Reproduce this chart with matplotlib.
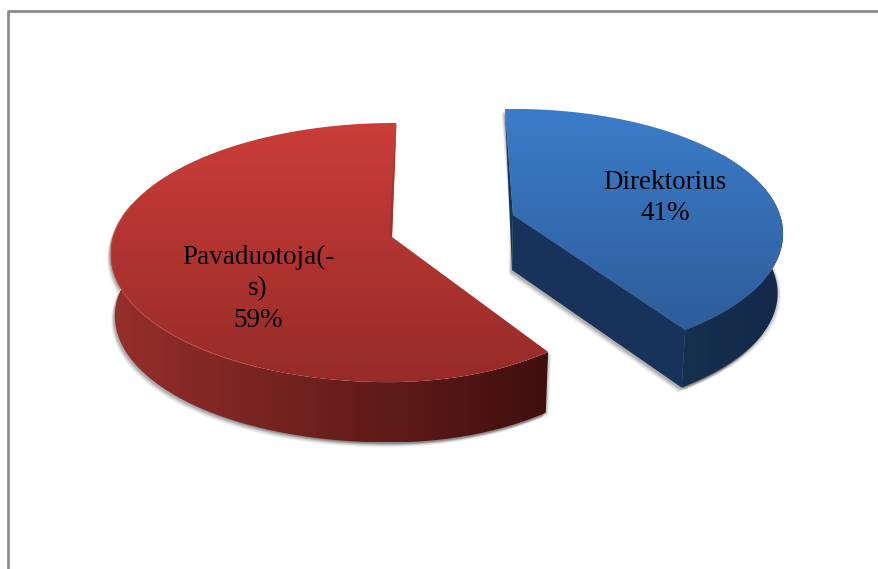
import numpy as np
import matplotlib
matplotlib.use("Agg")
import matplotlib.pyplot as plt
from matplotlib.colors import LinearSegmentedColormap
from matplotlib.patches import Polygon

labels = ["Direktorius\n41%", "Pavaduotoja(-\ns)\n59%"]
shares = [41, 59]

W, H = 879, 569

# per slice placement of the fake 3d pie, in pixels
blue = dict(x0=513, y0=215, a=122, b=267, k=0.15, c=0, start=-2, depth=60, shrink=0.98, pull=0)
red = dict(x0=392, y0=237, a=127.7, b=279, k=0.12, c=3, start=148, depth=62.5, shrink=0.985, pull=20)


def project(p, theta, r=1.0, low=False):
    # theta in degrees clockwise from 12 o'clock
    t = np.radians(theta)
    u = r * np.sin(t)
    v = r * np.cos(t)
    d = 1 + p["k"] * v
    x = (p["b"] * u + p["c"] * v) / d
    y = -p["a"] * v / d
    # the right side of the red rim sits a bit tighter than a true ellipse
    bend = p["pull"] * np.clip(u, 0, None) ** 2
    x = x - bend
    y = y - bend
    if low:
        return p["x0"] + x * p["shrink"], p["y0"] + y * p["shrink"] + p["depth"]
    return p["x0"] + x, p["y0"] + y


def rim(p, t1, t2, low=False):
    th = np.linspace(t1, t2, 200)
    x, y = project(p, th, low=low)
    return np.column_stack([x, y])


def gradient_fill(ax, pts, c1, c2, horizontal=False, z=2):
    cmap = LinearSegmentedColormap.from_list("g", [c1, c2])
    g = np.linspace(0, 1, 256)
    g = g.reshape(1, -1) if horizontal else g.reshape(-1, 1)
    x1, y1 = pts.min(axis=0)
    x2, y2 = pts.max(axis=0)
    im = ax.imshow(g, cmap=cmap, extent=[x1, x2, y2, y1], aspect="auto", zorder=z,
                   interpolation="bilinear")
    poly = Polygon(pts, closed=True, transform=ax.transData, fc="none", ec="none")
    ax.add_patch(poly)
    im.set_clip_path(poly)


def shadow(ax, pts):
    for off, al in [(5, 0.05), (4, 0.07), (3, 0.10), (2, 0.13)]:
        ax.add_patch(Polygon(pts + [-off * 0.7, off], fc="black", ec="none", alpha=al, zorder=1))
        ax.add_patch(Polygon(pts + [off * 0.7, off * 0.5], fc="black", ec="none", alpha=al * 0.6, zorder=1))


fig = plt.figure(figsize=(W / 100, H / 100), dpi=100)
ax = fig.add_axes([0, 0, 1, 1])
ax.set_xlim(0, W)
ax.set_ylim(H, 0)
ax.axis("off")

# chart frame, runs off the right and bottom of the picture
ax.plot([8, 8], [H + 5, 11], color="#8c8c8c", lw=2.0, solid_capstyle="butt", zorder=0)
ax.plot([7, W + 5], [11, 11], color="#8c8c8c", lw=2.0, solid_capstyle="butt", zorder=0)

# blue slice
t1 = blue["start"]
t2 = t1 + shares[0] * 3.6
top = rim(blue, t1, t2)
apex = np.array([[blue["x0"], blue["y0"]]])
apex_low = apex + [-1, 55]
corner = top[-1:]
corner_low = np.column_stack(project(blue, t2, low=True))
arc_low = rim(blue, t1 + 60, t2, low=True)
arc_up = rim(blue, t1 + 60, t2)
cut = np.vstack([apex, corner, corner_low, apex_low])
strip = np.vstack([top[:1], apex, apex_low])
side = np.vstack([arc_up, arc_low[::-1]])
shadow(ax, np.vstack([strip, corner_low, arc_low[::-1]]))
gradient_fill(ax, side, "#16304f", "#14284a", horizontal=True, z=2)
ax.add_patch(Polygon(cut, fc="#17335a", ec="none", zorder=3))
ax.add_patch(Polygon(strip, fc="#17335a", ec="none", zorder=3))
gradient_fill(ax, np.vstack([apex, top]), "#3b7cc9", "#2e5d9a", z=4)

# red slice
t1 = red["start"]
t2 = t1 + shares[1] * 3.6
top = rim(red, t1, t2)
apex = np.array([[red["x0"], red["y0"]]])
arc_up = rim(red, t1, 285)
arc_low = rim(red, t1, 285, low=True)
side = np.vstack([arc_up, arc_low[::-1]])
shadow(ax, side)
gradient_fill(ax, side, "#962f2b", "#3f0f0e", horizontal=True, z=2)
gradient_fill(ax, np.vstack([apex, top]), "#cb3d39", "#962b28", z=4)
# thin cut face seen at the back
ax.add_patch(Polygon(np.vstack([top[-1:], apex, apex + [-3, -4]]), fc="#a8302c", ec="none", zorder=5))
# soft light along the front rim
lit = rim(red, 205, 285)
ax.plot(lit[:, 0], lit[:, 1], color="#c9504a", lw=1.0, alpha=0.45, zorder=5)

font = ["Liberation Serif", "DejaVu Serif"]
ax.text(665, 198, labels[0], ha="center", va="center", fontsize=19.5, family=font,
        color="black", linespacing=1.33, zorder=6)
ax.text(258, 289, labels[1], ha="center", va="center", fontsize=19.5, family=font,
        color="black", linespacing=1.33, zorder=6)

ax.set_xlim(0, W)
ax.set_ylim(H, 0)
fig.savefig("out.png", dpi=100, facecolor="white")
